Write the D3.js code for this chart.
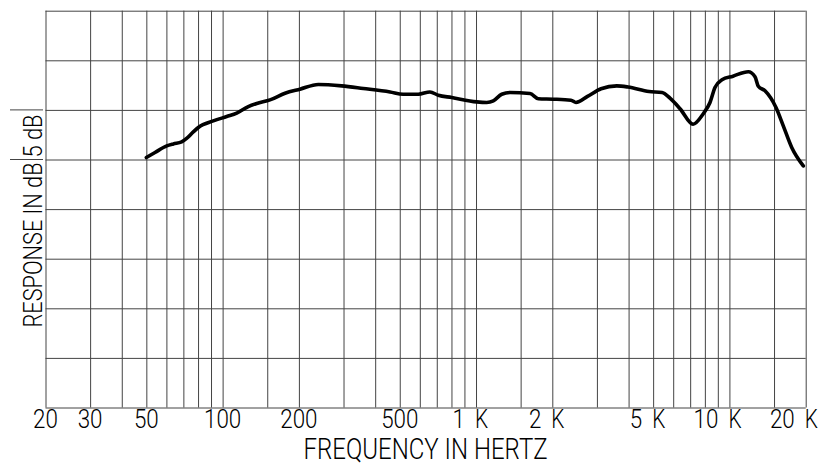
<!DOCTYPE html>
<html>
<head>
<meta charset="utf-8">
<script src="https://cdn.jsdelivr.net/npm/d3@7"></script>
<style>
html,body{margin:0;padding:0;background:#fff;}
svg{display:block;}
text{font-family:Roboto,"Liberation Sans",Arial,sans-serif;font-weight:300;fill:#000;}
</style>
</head>
<body>
<svg id="chart" width="825" height="476"></svg>
<script>
// ---- data ----
const freqs = [50, 54.1, 60.2, 63.9, 68.9, 72.1, 76.6, 80.2, 91.9, 103.8, 113.7, 126.3, 136.3, 153.8, 176.3,
  202, 238.6, 295, 359, 457.7, 516, 592, 658, 710, 802, 1006, 1102, 1170, 1263, 1362, 1633, 1761, 2018,
  2370, 2480, 2754, 3114, 3592, 3978, 4816, 5420, 5828, 6384, 7186, 7888, 8382, 8770, 9346, 10332, 11872,
  12616, 13000, 13818, 15268, 16314, 17614, 19568];
const response = [0.2, 0.71, 1.37, 1.57, 1.77, 2.12, 2.78, 3.23, 3.89, 4.33, 4.67, 5.34, 5.65, 6.01, 6.68,
  7.09, 7.56, 7.42, 7.16, 6.81, 6.58, 6.58, 6.81, 6.48, 6.25, 5.81, 5.75, 5.91, 6.58, 6.75, 6.65, 6.12, 6.08,
  5.98, 5.75, 6.36, 7.13, 7.42, 7.31, 6.85, 6.75, 6.18, 5.12, 3.56, 4.62, 5.75, 7.26, 8.04, 8.4, 8.85,
  8.35, 7.39, 6.92, 5.24, 3.39, 1.21, -0.65];
const gridFreqs = [20, 30, 40, 50, 60, 70, 80, 90, 100, 150, 200, 300, 400, 500, 600, 700, 800, 900, 1000,
  1500, 2000, 3000, 4000, 5000, 6000, 7000, 8000, 9000, 10000, 15000, 20000];
const gridDb = [-25, -20, -15, -10, -5, 0, 5, 10, 15];
const scaleMarkDb = [0, 5];
const labelFreqs = [20, 30, 50, 100, 200, 500, 1000, 2000, 5000, 10000, 20000];
const labelNumbers = ["20", "30", "50", "100", "200", "500", "1", "2", "5", "10", "20"];
const labelUnits = ["", "", "", "", "", "", "K", "K", "K", "K", "K"];
const xTitle = "FREQUENCY IN HERTZ";
const yTitle = "RESPONSE IN dB";
const yScaleNote = "5 dB";

// ---- layout ----
const plotL = 45.5, plotR = 805.7, plotT = 10.7, plotB = 407.5;
const svg = d3.select("#chart");
const x = d3.scaleLog().domain([20, 20000]).range([plotL, plotR]);
const y = d3.scaleLinear().domain([-25, 15]).range([plotB, plotT]);

const gridColor = "#444";

// vertical grid via axis
const gx = svg.append("g").attr("transform", `translate(0,${plotB})`)
  .call(d3.axisBottom(x).tickValues(gridFreqs).tickSize(-(plotB - plotT)).tickFormat(""));
gx.select(".domain").remove();
gx.selectAll(".tick line").attr("stroke", gridColor).attr("stroke-width", 1);

// horizontal grid via axis
const gy = svg.append("g").attr("transform", `translate(${plotL},0)`)
  .call(d3.axisLeft(y).tickValues(gridDb).tickSize(-(plotR - plotL)).tickFormat(""));
gy.select(".domain").remove();
gy.selectAll(".tick line").attr("stroke", gridColor).attr("stroke-width", 1);

// 5 dB scale marks on the left
svg.selectAll("line.mark").data(scaleMarkDb).enter().append("line")
  .attr("class", "mark")
  .attr("x1", 10).attr("x2", 43)
  .attr("y1", d => y(d)).attr("y2", d => y(d))
  .attr("stroke", gridColor).attr("stroke-width", 1);

function squeeze(sel, factor) {
  sel.each(function () {
    const w = this.getComputedTextLength();
    d3.select(this).attr("textLength", w * factor).attr("lengthAdjust", "spacingAndGlyphs");
  });
}

// frequency labels
const labelY = 428.3;
const labelSize = 26;
labelFreqs.forEach((f, i) => {
  if (labelUnits[i] === "") {
    svg.append("text").attr("x", x(f)).attr("y", labelY)
      .attr("text-anchor", "middle").attr("font-size", labelSize)
      .text(labelNumbers[i]).call(squeeze, 0.86);
  } else {
    svg.append("text").attr("x", x(f) - 11).attr("y", labelY)
      .attr("text-anchor", "end").attr("font-size", labelSize)
      .text(labelNumbers[i]).call(squeeze, 0.86);
    svg.append("text").attr("x", x(f) - 1).attr("y", labelY)
      .attr("text-anchor", "start").attr("font-size", labelSize)
      .text(labelUnits[i]).call(squeeze, 0.8);
  }
});

// x title
svg.append("text").attr("x", (plotL + plotR) / 2).attr("y", 459)
  .attr("text-anchor", "middle").attr("font-size", 29)
  .attr("textLength", 244).attr("lengthAdjust", "spacingAndGlyphs")
  .text(xTitle);

// y title (rotated)
svg.append("text").attr("transform", `translate(41.7,${y(0) + 3}) rotate(-90)`)
  .attr("text-anchor", "end").attr("font-size", 25.5)
  .attr("textLength", 165).attr("lengthAdjust", "spacingAndGlyphs")
  .text(yTitle);
svg.append("text").attr("transform", `translate(41.7,${y(0) - 2}) rotate(-90)`)
  .attr("text-anchor", "start").attr("font-size", 25.5)
  .attr("textLength", 43).attr("lengthAdjust", "spacingAndGlyphs")
  .text(yScaleNote);

// response curve
const line = d3.line().x((d, i) => x(freqs[i])).y(d => y(d)).curve(d3.curveMonotoneX);
svg.append("path").datum(response)
  .attr("d", line)
  .attr("fill", "none").attr("stroke", "#000").attr("stroke-width", 3.6)
  .attr("stroke-linejoin", "round").attr("stroke-linecap", "round");
</script>
</body>
</html>
